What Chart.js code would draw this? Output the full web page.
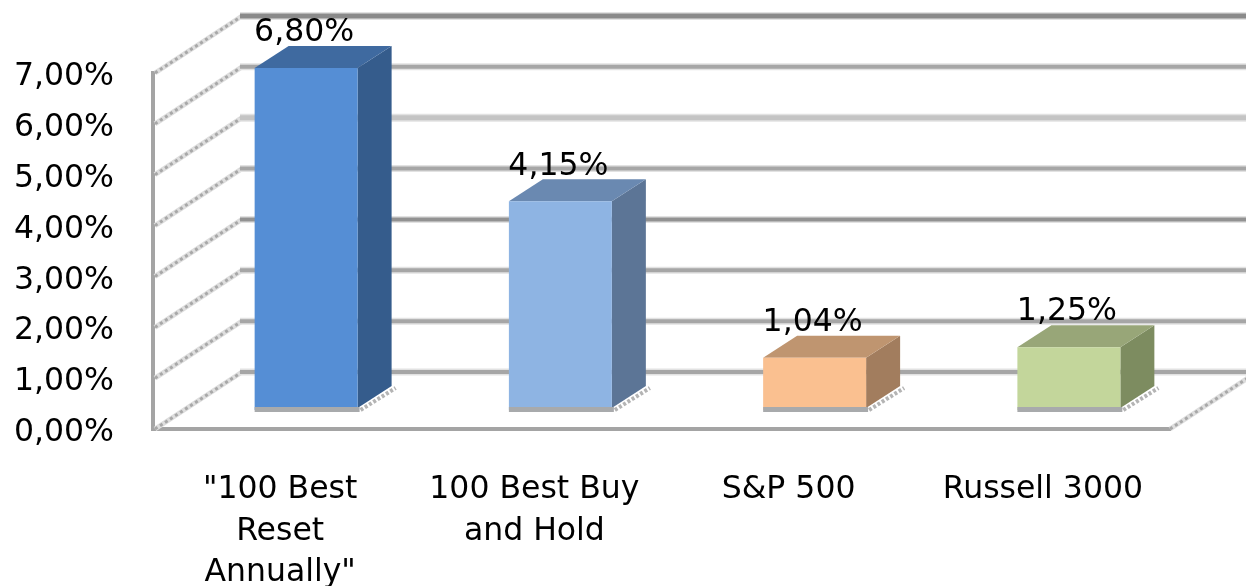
<!DOCTYPE html>
<html>
<head>
<meta charset="utf-8">
<title>Chart</title>
<script src="https://cdn.jsdelivr.net/npm/chart.js@4"></script>
<style>
  html, body { margin: 0; padding: 0; background: #fff; }
  canvas { display: block; }
</style>
</head>
<body>
<canvas id="chart" width="1246" height="586"></canvas>
<script>
const categories = [['"100 Best', 'Reset', 'Annually"'], ['100 Best Buy', 'and Hold'], 'S&P 500', 'Russell 3000'];
const values = [6.80, 4.15, 1.04, 1.25];
const frontColors = ['#558ed5', '#8eb4e3', '#fac090', '#c3d69b'];
const sideColors = ['#355c8c', '#5c7596', '#a27d5e', '#7d8c60'];
const topColors = ['#3f6aa0', '#6a89b1', '#bf9570', '#98a678'];

const FONT = '"DejaVu Sans", sans-serif';
const WALL = { dx: 87, dy: -57 };   // front axis -> back wall
const BAR_SHIFT = { dx: 26, dy: -19 };
const BAR_DEPTH = { dx: 34, dy: -22 };

function fmt(v) {
  return v.toFixed(2).replace('.', ',') + '%';
}

function gridStyle(v) {
  if (v === 7) return { color: '#8a8a8a', width: 6 };
  if (v === 5) return { color: '#c4c4c4', width: 6 };
  if (v === 3) return { color: '#929292', width: 5 };
  return { color: '#a6a6a6', width: 5 };
}

function diagonal(ctx, x, y) {
  ctx.setLineDash([]);
  ctx.lineWidth = 5;
  ctx.strokeStyle = '#dedede';
  ctx.beginPath();
  ctx.moveTo(x, y);
  ctx.lineTo(x + WALL.dx, y + WALL.dy);
  ctx.stroke();
  ctx.lineWidth = 3;
  ctx.setLineDash([3, 3]);
  ctx.strokeStyle = '#a8a8a8';
  ctx.stroke();
  ctx.setLineDash([]);
}

const box3d = {
  id: 'box3d',
  beforeDatasetsDraw(chart) {
    const ctx = chart.ctx;
    const area = chart.chartArea;
    const y = chart.scales.y;

    ctx.save();
    y.ticks.forEach(t => {
      const py = y.getPixelForValue(t.value);
      const st = gridStyle(t.value);
      diagonal(ctx, area.left + 2, py);
      // soft edge first, then the line itself
      ctx.beginPath();
      ctx.moveTo(area.left + WALL.dx, py + WALL.dy);
      ctx.lineTo(chart.width, py + WALL.dy);
      ctx.strokeStyle = '#e2e2e2';
      ctx.lineWidth = st.width + 2;
      ctx.stroke();
      ctx.strokeStyle = st.color;
      ctx.lineWidth = st.width - 1;
      ctx.stroke();
    });
    diagonal(ctx, area.right, area.bottom);

    // sides and tops of the bars
    chart.getDatasetMeta(0).data.forEach((bar, i) => {
      const l = bar.x - bar.width / 2 + BAR_SHIFT.dx;
      const r = bar.x + bar.width / 2 + BAR_SHIFT.dx;
      const t = bar.y + BAR_SHIFT.dy;
      const b = bar.base + BAR_SHIFT.dy;

      ctx.save();
      ctx.lineWidth = 4;
      ctx.setLineDash([3, 2]);
      ctx.strokeStyle = '#b4b4b4';
      ctx.beginPath();
      ctx.moveTo(r + 3, b);
      ctx.lineTo(r + BAR_DEPTH.dx + 4, b + BAR_DEPTH.dy);
      ctx.stroke();
      ctx.restore();

      ctx.fillStyle = sideColors[i];
      ctx.beginPath();
      ctx.moveTo(r, t);
      ctx.lineTo(r + BAR_DEPTH.dx, t + BAR_DEPTH.dy);
      ctx.lineTo(r + BAR_DEPTH.dx, b + BAR_DEPTH.dy - 2);
      ctx.lineTo(r, b - 2);
      ctx.closePath();
      ctx.fill();

      ctx.fillStyle = topColors[i];
      ctx.beginPath();
      ctx.moveTo(l, t);
      ctx.lineTo(l + BAR_DEPTH.dx, t + BAR_DEPTH.dy);
      ctx.lineTo(r + BAR_DEPTH.dx, t + BAR_DEPTH.dy);
      ctx.lineTo(r, t);
      ctx.closePath();
      ctx.fill();
    });
    ctx.restore();

    ctx.save();
    ctx.translate(BAR_SHIFT.dx, BAR_SHIFT.dy);
  },
  afterDatasetsDraw(chart) {
    const ctx = chart.ctx;
    ctx.restore();

    ctx.save();
    ctx.font = '31.5px ' + FONT;
    ctx.textAlign = 'center';
    ctx.textBaseline = 'middle';
    chart.getDatasetMeta(0).data.forEach((bar, i) => {
      const l = bar.x - bar.width / 2 + BAR_SHIFT.dx;
      const b = bar.base + BAR_SHIFT.dy;
      // shadow strip under the front face
      ctx.fillStyle = '#a8aaac';
      ctx.fillRect(l, b - 3, bar.width + 2, 5);
      ctx.fillStyle = '#000';
      ctx.fillText(fmt(values[i]), bar.x + BAR_SHIFT.dx - 2, bar.y + BAR_SHIFT.dy - 35);
    });
    ctx.restore();
  }
};

new Chart(document.getElementById('chart').getContext('2d'), {
  type: 'bar',
  data: {
    labels: categories,
    datasets: [{
      data: values,
      yAxisID: 'yBar',
      backgroundColor: frontColors,
      borderWidth: 0,
      barPercentage: 0.405,
      categoryPercentage: 1
    }]
  },
  options: {
    responsive: false,
    animation: false,
    layout: { padding: { left: 10, top: 73, right: 76, bottom: 0 } },
    plugins: { legend: { display: false }, tooltip: { enabled: false } },
    scales: {
      x: {
        grid: { display: false, drawTicks: false },
        border: { color: '#a4a4a4', width: 4 },
        afterFit(scale) { scale.height = 157; },
        ticks: {
          color: '#000',
          font: { family: FONT, size: 31.5, lineHeight: 1.32 },
          maxRotation: 0,
          autoSkip: false,
          padding: 40
        }
      },
      y: {
        min: 0,
        max: 7,
        grid: { display: false, drawTicks: false },
        border: { color: '#a4a4a4', width: 4 },
        afterFit(scale) { scale.width = 143; },
        ticks: {
          stepSize: 1,
          color: '#000',
          font: { family: FONT, size: 31.5 },
          padding: 39,
          labelOffset: 4,
          callback: v => fmt(v)
        }
      },
      yBar: {
        display: false,
        min: 0,
        max: 7.08
      }
    }
  },
  plugins: [box3d]
});
</script>
</body>
</html>
